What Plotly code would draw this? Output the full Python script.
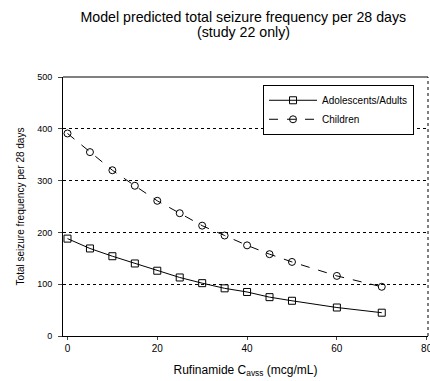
import plotly.graph_objects as go

conc = [0, 5, 10, 15, 20, 25, 30, 35, 40, 45, 50, 60, 70]
adults = [188, 169, 154, 140, 126, 113, 102, 92, 85, 75, 68, 55, 45]
children = [391, 355, 320, 290, 261, 237, 213, 194, 175, 158, 143, 116, 95]
x_ticks = [0, 20, 40, 60, 80]
y_ticks = [0, 100, 200, 300, 400, 500]
title_line1 = "Model predicted total seizure frequency per 28 days"
title_line2 = "(study 22 only)"

FONT = "Liberation Sans, Arial, sans-serif"

fig = go.Figure()
fig.add_trace(go.Scatter(
    x=conc, y=adults, name="Adolescents/Adults", mode="lines+markers",
    line=dict(color="black", width=1),
    marker=dict(symbol="square-open", size=7, color="black", line=dict(width=1)),
))
fig.add_trace(go.Scatter(
    x=conc, y=children, name="Children", mode="lines+markers",
    line=dict(color="black", width=1, dash="dash"),
    marker=dict(symbol="circle-open", size=7, color="black", line=dict(width=1)),
))

fig.update_layout(
    width=430, height=381,
    margin=dict(l=63, r=2, t=77, b=45),
    paper_bgcolor="white", plot_bgcolor="white",
    font=dict(family=FONT, color="black", size=10),
    title=dict(
        text=title_line1,
        x=0.494, xref="paper", xanchor="center",
        y=1 - 17 / 381, yanchor="middle", yref="container",
        font=dict(size=14.2, family=FONT),
    ),
    annotations=[
        dict(text=title_line2, xref="paper", yref="paper", x=0.494,
             y=1 + (77 - 32) / 259, xanchor="center", yanchor="middle",
             showarrow=False, font=dict(size=14.2, family=FONT)),
    ],
    showlegend=True,
    legend=dict(
        x=0.548, y=0.97, xanchor="left", yanchor="top",
        bordercolor="black", borderwidth=1, bgcolor="white",
        font=dict(size=10), tracegroupgap=0, itemwidth=48,
        entrywidth=150, entrywidthmode="pixels",
    ),
    xaxis=dict(
        range=[-1, 80.3], tickvals=x_ticks, ticks="outside", ticklen=3,
        showline=True, linecolor="black", linewidth=1,
        showgrid=False, zeroline=False, tickfont=dict(size=10),
        ticklabeloverflow="allow", automargin=False,
        title=dict(text="Rufinamide C<sub>avss</sub> (mcg/mL)", font=dict(size=12), standoff=12),
    ),
    yaxis=dict(
        range=[0, 500], tickvals=y_ticks, ticks="outside", ticklen=4,
        showline=True, linecolor="black", linewidth=1,
        showgrid=True, gridcolor="black", gridwidth=1, griddash="dot",
        zeroline=False, tickfont=dict(size=9), ticklabelstandoff=4,
        automargin=False,
        title=dict(text="Total seizure frequency per 28 days", font=dict(size=10), standoff=10),
    ),
    shapes=[
        dict(type="line", xref="paper", yref="paper", x0=0, x1=1, y0=1, y1=1,
             line=dict(color="black", width=1)),
        dict(type="line", xref="paper", yref="paper", x0=1, x1=1, y0=0, y1=1,
             line=dict(color="black", width=1, dash="dot")),
    ],
)

fig.write_html("out.html")
